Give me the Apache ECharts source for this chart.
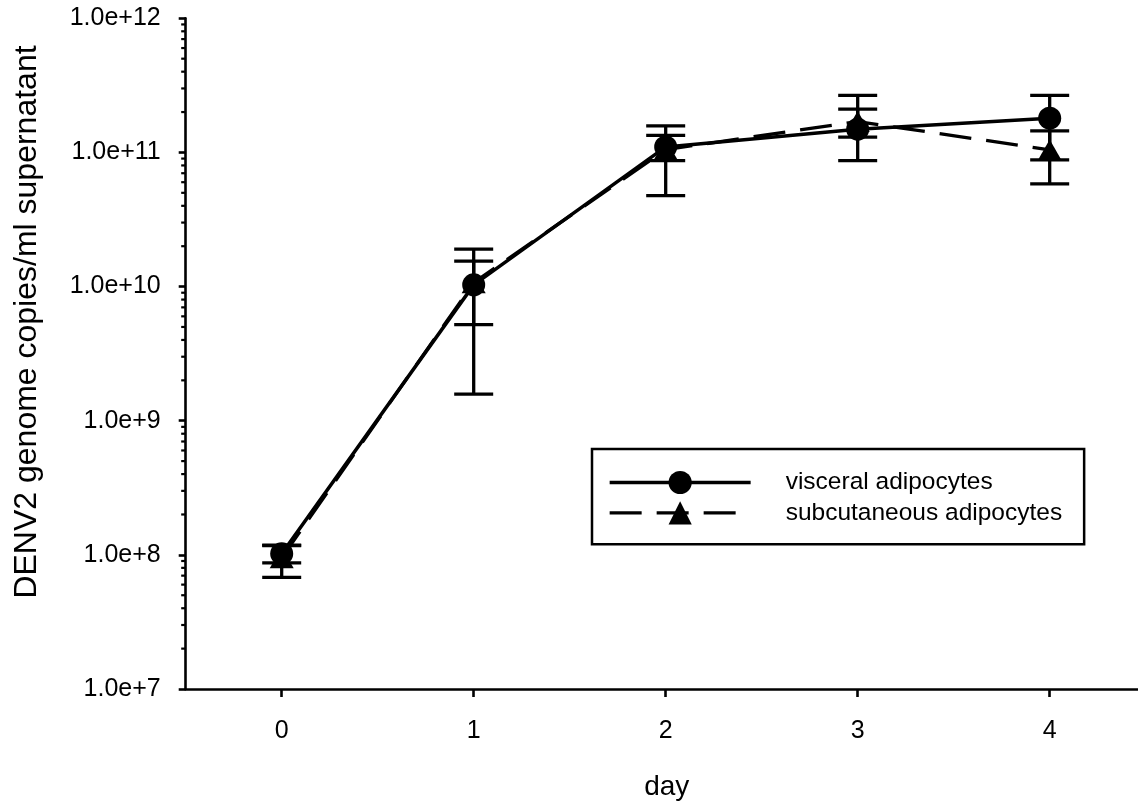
<!DOCTYPE html>
<html>
<head>
<meta charset="utf-8">
<script src="https://cdn.jsdelivr.net/npm/echarts@6/dist/echarts.min.js"></script>
<style>
html,body{margin:0;padding:0;background:#fff;}
#chart{width:1138px;height:803px;}
</style>
</head>
<body>
<div id="chart"></div>
<script>
// ---- data ----
const days = [0, 1, 2, 3, 4];
const dayLabels = ['0', '1', '2', '3', '4'];
const seriesNames = ['visceral adipocytes', 'subcutaneous adipocytes'];
const visceral      = [1.02e8, 1.03e10, 1.10e11, 1.49e11, 1.80e11];
const visceralHigh  = [1.17e8, 1.55e10, 1.34e11, 2.10e11, 2.66e11];
const visceralLow   = [0.87e8, 0.52e10, 0.87e11, 0.87e11, 0.88e11];
const subcut        = [0.95e8, 1.07e10, 1.05e11, 1.70e11, 1.045e11];
const subcutHigh    = [1.18e8, 1.90e10, 1.58e11, 2.66e11, 1.45e11];
const subcutLow     = [0.68e8, 0.158e10, 0.477e11, 1.30e11, 0.583e11];
const yTickExponents = [7, 8, 9, 10, 11, 12];
const yTickLabels = ['1.0e+7', '1.0e+8', '1.0e+9', '1.0e+10', '1.0e+11', '1.0e+12'];
const xName = 'day';
const yName = 'DENV2 genome copies/ml supernatant';

// ---- build ----
const X_MIN = -0.5, X_MAX = 4.46;
const minorTicks = [];
for (let i = 0; i < yTickExponents.length - 1; i++) {
  for (let m = 2; m <= 9; m++) minorTicks.push([X_MIN, m * Math.pow(10, yTickExponents[i])]);
}
const pts = (vals) => days.map((d, i) => [d, vals[i]]);
const errs = (lo, hi) => days.map((d, i) => [d, lo[i], hi[i]]);

function errorRender(params, api) {
  const x = api.value(0);
  const pH = api.coord([x, api.value(2)]);
  const pL = api.coord([x, api.value(1)]);
  const hw = 19.5;
  const st = { stroke: '#000', lineWidth: 3.3 };
  return {
    type: 'group',
    children: [
      { type: 'line', shape: { x1: pH[0], y1: pH[1], x2: pL[0], y2: pL[1] }, style: st },
      { type: 'line', shape: { x1: pH[0] - hw, y1: pH[1], x2: pH[0] + hw, y2: pH[1] }, style: st },
      { type: 'line', shape: { x1: pL[0] - hw, y1: pL[1], x2: pL[0] + hw, y2: pL[1] }, style: st }
    ]
  };
}

const chart = echarts.init(document.getElementById('chart'), null, { renderer: 'canvas' });
const font = 'Liberation Sans, Arial, sans-serif';
chart.setOption({
  animation: false,
  backgroundColor: '#fff',
  textStyle: { fontFamily: font, color: '#000' },
  grid: { left: 185.7, right: 0, top: 18.3, bottom: 114, containLabel: false },
  xAxis: {
    type: 'value', min: X_MIN, max: X_MAX,
    axisLine: { show: true, onZero: false, lineStyle: { color: '#000', width: 2.6 } },
    axisTick: { show: true, length: 8, lineStyle: { color: '#000', width: 2.6 }, customValues: days },
    axisLabel: { fontSize: 25, color: '#000', fontFamily: font, margin: 30, customValues: days,
      formatter: (v) => dayLabels[days.indexOf(Math.round(v))] },
    splitLine: { show: false }
  },
  yAxis: {
    type: 'log', logBase: 10, min: 1e7, max: 1e12,
    axisLine: { show: true, onZero: false, lineStyle: { color: '#000', width: 2.6 } },
    axisTick: { show: true, length: 7, lineStyle: { color: '#000', width: 2.6 } },
    axisLabel: { fontSize: 25, color: '#000', fontFamily: font, margin: 25,
      formatter: (v) => yTickLabels[yTickExponents.indexOf(Math.round(Math.log10(v)))] },
    splitLine: { show: false },
    minorTick: { show: false }
  },
  legend: {
    data: seriesNames,
    orient: 'vertical',
    left: 592, top: 449,
    itemWidth: 141, itemHeight: 29, itemGap: 5.3,
    padding: [21, 22, 19, 16],
    borderColor: '#000', borderWidth: 2.5, backgroundColor: '#fff',
    lineStyle: { width: 3.3, type: 'inherit' },
    textStyle: { fontSize: 24.5, color: '#000', fontFamily: font, padding: [0, 0, 0, 30] },
    selectedMode: false
  },
  graphic: [
    { type: 'text', x: 27, y: 322, rotation: Math.PI / 2,
      style: { text: yName, font: '32px ' + font, fill: '#000', align: 'center', verticalAlign: 'middle' } },
    { type: 'text', x: 666.7, y: 787,
      style: { text: xName, font: '28px ' + font, fill: '#000', align: 'center', verticalAlign: 'middle' } }
  ],
  series: [
    { type: 'custom', name: 'minor', silent: true, clip: false, data: minorTicks, z: 1,
      renderItem: (params, api) => {
        const p = api.coord([api.value(0), api.value(1)]);
        return { type: 'line', shape: { x1: p[0] - 4.5, y1: p[1], x2: p[0], y2: p[1] },
          style: { stroke: '#000', lineWidth: 2.2 } };
      } },
    { type: 'custom', name: 'errSub', silent: true, data: errs(subcutLow, subcutHigh), renderItem: errorRender, z: 2 },
    { type: 'custom', name: 'errVis', silent: true, data: errs(visceralLow, visceralHigh), renderItem: errorRender, z: 2 },
    { type: 'line', name: seriesNames[1], data: pts(subcut), z: 3,
      symbol: 'triangle', symbolSize: [24, 21],
      lineStyle: { color: '#000', width: 3.3, type: [32, 15] },
      itemStyle: { color: '#000' }, emphasis: { disabled: true } },
    { type: 'line', name: seriesNames[0], data: pts(visceral), z: 4,
      symbol: 'circle', symbolSize: 23,
      lineStyle: { color: '#000', width: 3.5, type: 'solid' },
      itemStyle: { color: '#000' }, emphasis: { disabled: true } }
  ]
});
</script>
</body>
</html>
